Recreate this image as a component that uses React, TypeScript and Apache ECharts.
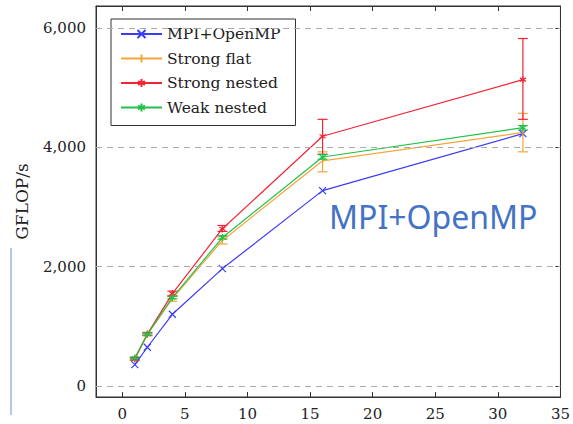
import React, { useEffect, useRef } from "react";
import * as echarts from "echarts";

const xValues = [1, 2, 4, 8, 16, 32];
const mpiOpenMP = [359, 649, 1202, 1968, 3275, 4231];
const strongFlat = [448, 860, 1465, 2440, 3775, 4250];
const strongNested = [455, 870, 1549, 2636, 4186, 5136];
const weakNested = [470, 867, 1480, 2488, 3839, 4330];

const strongFlatLow = [430, 840, 1420, 2380, 3590, 3925];
const strongFlatHigh = [470, 900, 1510, 2500, 3925, 4570];
const strongNestedLow = [435, 850, 1510, 2590, 3885, 4470];
const strongNestedHigh = [475, 890, 1590, 2690, 4470, 5825];
const weakNestedLow = [455, 850, 1460, 2460, 3800, 4290];
const weakNestedHigh = [485, 885, 1500, 2520, 3880, 4365];

const xTicks = [0, 5, 10, 15, 20, 25, 30, 35];
const yTicks = [0, 2000, 4000, 6000];

const seriesNames = ["MPI+OpenMP", "Strong flat", "Strong nested", "Weak nested"];
const colors = ["#3c3cf5", "#f5a53c", "#f22535", "#22c24a"];

const SYM_X = "path://M0,0L10,10M10,0L0,10";
const SYM_BAR = "path://M5,0L5,10M0,5L0,5M10,5L10,5";
const SYM_STAR = "path://M5,0L5,10M0.7,2.5L9.3,7.5M9.3,2.5L0.7,7.5M0,5L0,5M10,5L10,5";
const SYM_AST = "path://M5,0L5,10M0.7,2.5L9.3,7.5M9.3,2.5L0.7,7.5M0,5L0,5M10,5L10,5";
const symbols = [SYM_X, SYM_BAR, SYM_STAR, SYM_AST];

const FONT = "DejaVu Serif";

function pairs(ys: number[]) {
  return xValues.map((x, i) => [x, ys[i]]);
}
function errs(lo: number[], hi: number[]) {
  return xValues.map((x, i) => [x, lo[i], hi[i]]);
}

function errorSeries(color: string, data: number[][]) {
  return {
    type: "custom",
    z: 3,
    data,
    encode: { x: 0, y: [1, 2] },
    renderItem: (params: any, api: any) => {
      const x = api.value(0);
      const p1 = api.coord([x, api.value(1)]);
      const p2 = api.coord([x, api.value(2)]);
      const w = 5;
      const style = { stroke: color, lineWidth: 1.2 };
      return {
        type: "group",
        children: [
          { type: "line", shape: { x1: p1[0], y1: p1[1], x2: p2[0], y2: p2[1] }, style },
          { type: "line", shape: { x1: p1[0] - w, y1: p1[1], x2: p1[0] + w, y2: p1[1] }, style },
          { type: "line", shape: { x1: p2[0] - w, y1: p2[1], x2: p2[0] + w, y2: p2[1] }, style },
        ],
      };
    },
  };
}

export default function App() {
  const ref = useRef<HTMLDivElement>(null);
  useEffect(() => {
    if (!ref.current) return;
    const chart = echarts.init(ref.current, null, { renderer: "svg" });
    const seriesData = [mpiOpenMP, strongFlat, strongNested, weakNested];
    const lineSeries = seriesData.map((d, i) => ({
      name: seriesNames[i],
      type: "line",
      z: 4,
      data: pairs(d),
      symbol: symbols[i],
      symbolSize: 7,
      showAllSymbol: true,
      lineStyle: { color: colors[i], width: 1.2 },
      itemStyle: { color: "none", borderColor: colors[i], borderWidth: 1.2 },
      emphasis: { disabled: true },
    }));
    const gridLines = {
      type: "line",
      data: [],
      markLine: {
        silent: true,
        symbol: "none",
        label: { show: false },
        lineStyle: { color: "#aaaaaa", type: [6, 5], width: 1 },
        data: yTicks.map((v) => ({ yAxis: v })),
      },
    };
    const fmt = (v: number) => v.toLocaleString("en-US");
    chart.setOption({
      animation: false,
      grid: {
        left: 96,
        right: 7,
        top: 6,
        bottom: 27,
        show: true,
        borderColor: "#333",
        borderWidth: 1,
        backgroundColor: "transparent",
      },
      legend: {
        data: seriesNames,
        orient: "vertical",
        left: 111,
        top: 19,
        itemWidth: 41,
        itemHeight: 10,
        itemGap: 8.5,
        padding: [7, 15, 10, 9],
        borderColor: "#333",
        borderWidth: 1,
        backgroundColor: "#fff",
        textStyle: { fontFamily: FONT, fontSize: 15.5, color: "#222" },
      },
      xAxis: [
        {
          type: "value",
          min: -2.1,
          max: 35,
          axisLine: { show: true, onZero: false, lineStyle: { color: "#333" } },
          axisTick: { show: true, inside: true, length: 5, customValues: xTicks, lineStyle: { color: "#333" } },
          axisLabel: { customValues: xTicks, fontFamily: FONT, fontSize: 15, color: "#222", margin: 9 },
          splitLine: { show: false },
        },
        {
          type: "value",
          position: "top",
          min: -2.1,
          max: 35,
          axisLine: { show: true, onZero: false, lineStyle: { color: "#333" } },
          axisTick: { show: true, inside: true, length: 5, customValues: xTicks, lineStyle: { color: "#333" } },
          axisLabel: { show: false },
          splitLine: { show: false },
        },
      ],
      yAxis: [
        {
          type: "value",
          min: -185,
          max: 6370,
          name: "GFLOP/s",
          nameLocation: "middle",
          nameGap: 66,
          nameTextStyle: { fontFamily: FONT, fontSize: 17, color: "#222" },
          axisLine: { show: true, onZero: false, lineStyle: { color: "#333" } },
          axisTick: { show: true, inside: true, length: 5, customValues: yTicks, lineStyle: { color: "#333" } },
          axisLabel: { customValues: yTicks, formatter: fmt, fontFamily: FONT, fontSize: 15, color: "#222", margin: 10 },
          splitLine: { show: false },
        },
        {
          type: "value",
          position: "right",
          min: -185,
          max: 6370,
          axisLine: { show: true, onZero: false, lineStyle: { color: "#333" } },
          axisTick: { show: true, inside: true, length: 5, customValues: yTicks, lineStyle: { color: "#333" } },
          axisLabel: { show: false },
          splitLine: { show: false },
        },
      ],
      graphic: [
        {
          type: "line",
          shape: { x1: 11, y1: 248, x2: 11, y2: 415 },
          style: { stroke: "#9db3df", lineWidth: 1.5 },
        },
        {
          type: "text",
          x: 329,
          y: 216,
          style: {
            text: "MPI+OpenMP",
            fontFamily: "Noto Sans",
            fontSize: 32,
            fill: "#4472c4",
            verticalAlign: "middle",
          },
        },
      ],
      series: [
        gridLines,
        errorSeries(colors[1], errs(strongFlatLow, strongFlatHigh)),
        errorSeries(colors[2], errs(strongNestedLow, strongNestedHigh)),
        errorSeries(colors[3], errs(weakNestedLow, weakNestedHigh)),
        ...lineSeries,
      ],
    });
    return () => chart.dispose();
  }, []);
  return <div ref={ref} style={{ width: 573, height: 424, position: "absolute", left: 0, top: 0 }} />;
}
